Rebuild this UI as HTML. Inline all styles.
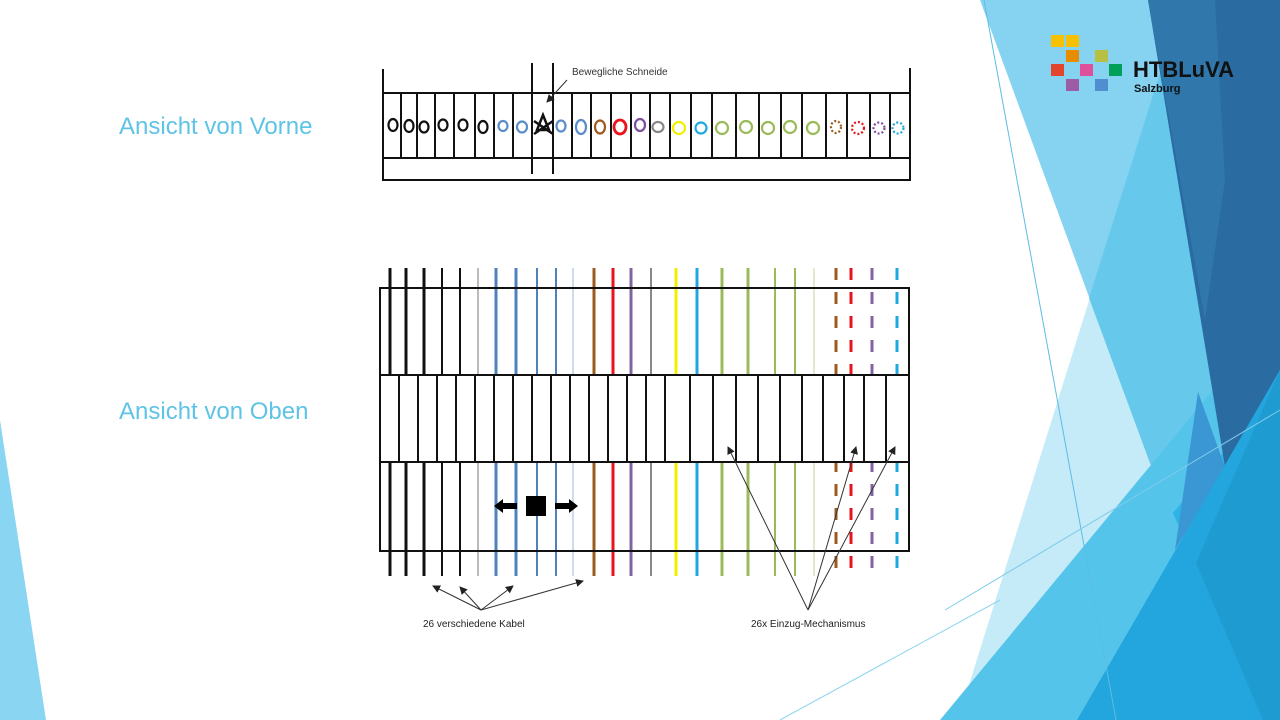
<!DOCTYPE html>
<html><head><meta charset="utf-8"><style>
html,body{margin:0;padding:0;background:#fff;width:1280px;height:720px;overflow:hidden}
svg{display:block}
text{font-family:"Liberation Sans",sans-serif}
</style></head><body>
<svg width="1280" height="720" viewBox="0 0 1280 720" xmlns="http://www.w3.org/2000/svg">
<defs>
<marker id="ah" markerWidth="8" markerHeight="8" refX="7" refY="4" orient="auto" markerUnits="userSpaceOnUse"><path d="M0,0 L8,4 L0,8 z" fill="#222"/></marker>
</defs>
<polygon points="1183,0 1280,0 1280,720 958,720" fill="#c5eaf8"/>
<polygon points="980,0 1280,0 1280,720 1263,720 1150,463" fill="#86d3f1"/>
<polygon points="1089,298 1183,0 1280,0 1280,720 1263,720 1150,463" fill="#66c9ec"/>
<polygon points="940,720 1280,309 1280,720" fill="#55c4ea"/>
<polygon points="1173,513 1280,384 1280,720 1263,720" fill="#2db4e6"/>
<polygon points="1148,0 1280,0 1280,370 1225,467" fill="#2a6ca2"/>
<polygon points="1148,0 1215,0 1225,180 1205,320" fill="#3077ab"/>
<polygon points="1198,392 1225,467 1175,550" fill="#3b97d3"/>
<polygon points="1280,370 1280,720 1077,720" fill="#23a5dd"/>
<polygon points="1280,370 1280,720 1263,720 1196,563" fill="#1e9bd0"/>
<polygon points="0,420 0,720 46,720" fill="#8ad6f2"/>
<line x1="984" y1="0" x2="1116" y2="720" stroke="#5bbde6" stroke-width="1"/>
<line x1="945" y1="610" x2="1280" y2="410" stroke="#7fcbe9" stroke-width="1"/>
<line x1="780" y1="720" x2="1000" y2="600" stroke="#8fd3ef" stroke-width="1"/>
<rect x="1051" y="35" width="13" height="12" fill="#f7c000"/>
<rect x="1066" y="35" width="13" height="12" fill="#f7c000"/>
<rect x="1066" y="50" width="13" height="12" fill="#e88c00"/>
<rect x="1095" y="50" width="13" height="12" fill="#b7c040"/>
<rect x="1051" y="64" width="13" height="12" fill="#e2452c"/>
<rect x="1080" y="64" width="13" height="12" fill="#de4f9c"/>
<rect x="1109" y="64" width="13" height="12" fill="#00a05a"/>
<rect x="1066" y="79" width="13" height="12" fill="#9b5ea6"/>
<rect x="1095" y="79" width="13" height="12" fill="#4f8fd0"/>
<text x="1133" y="77" font-size="22" font-weight="bold" fill="#111">HTBLuVA</text>
<text x="1134" y="92" font-size="11" font-weight="bold" fill="#111">Salzburg</text>
<text x="119" y="134" font-size="24" fill="#5ec3e6">Ansicht von Vorne</text>
<text x="119" y="419" font-size="24" fill="#5ec3e6">Ansicht von Oben</text>
<g stroke="#111" stroke-width="2" fill="none">
<polyline points="383,69 383,180 910,180 910,68"/>
<line x1="383" y1="93" x2="910" y2="93"/>
<line x1="383" y1="158" x2="910" y2="158"/>
<line x1="532" y1="63" x2="532" y2="174"/>
<line x1="553" y1="63" x2="553" y2="174"/>
</g>
<g stroke="#111" stroke-width="2">
<line x1="401" y1="93" x2="401" y2="158"/><line x1="417" y1="93" x2="417" y2="158"/><line x1="435" y1="93" x2="435" y2="158"/><line x1="454" y1="93" x2="454" y2="158"/><line x1="475" y1="93" x2="475" y2="158"/><line x1="494" y1="93" x2="494" y2="158"/><line x1="513" y1="93" x2="513" y2="158"/><line x1="572" y1="93" x2="572" y2="158"/><line x1="591" y1="93" x2="591" y2="158"/><line x1="611" y1="93" x2="611" y2="158"/><line x1="631" y1="93" x2="631" y2="158"/><line x1="650" y1="93" x2="650" y2="158"/><line x1="670" y1="93" x2="670" y2="158"/><line x1="691" y1="93" x2="691" y2="158"/><line x1="712" y1="93" x2="712" y2="158"/><line x1="736" y1="93" x2="736" y2="158"/><line x1="759" y1="93" x2="759" y2="158"/><line x1="781" y1="93" x2="781" y2="158"/><line x1="802" y1="93" x2="802" y2="158"/><line x1="826" y1="93" x2="826" y2="158"/><line x1="847" y1="93" x2="847" y2="158"/><line x1="870" y1="93" x2="870" y2="158"/><line x1="890" y1="93" x2="890" y2="158"/>
</g>
<g fill="none" stroke-width="2.2">
<ellipse cx="393" cy="125" rx="4.5" ry="6" stroke="#111"/>
<ellipse cx="409" cy="126" rx="4.5" ry="6" stroke="#111"/>
<ellipse cx="424" cy="127" rx="4.5" ry="5.5" stroke="#111"/>
<ellipse cx="443" cy="125" rx="4.5" ry="5.5" stroke="#111"/>
<ellipse cx="463" cy="125" rx="4.5" ry="5.5" stroke="#111"/>
<ellipse cx="483" cy="127" rx="4.5" ry="6" stroke="#111"/>
<ellipse cx="503" cy="126" rx="4.5" ry="5" stroke="#5b8dc8"/>
<ellipse cx="522" cy="127" rx="5" ry="5.5" stroke="#5b8dc8"/>
<ellipse cx="561" cy="126" rx="4.5" ry="5.5" stroke="#5b8dc8"/>
<ellipse cx="581" cy="127" rx="5" ry="7" stroke="#5b8dc8"/>
<ellipse cx="600" cy="127" rx="5" ry="6.5" stroke="#9c5a1e"/>
<ellipse cx="620" cy="127" rx="6" ry="7" stroke="#e8141c" stroke-width="2.8"/>
<ellipse cx="640" cy="125" rx="5" ry="6" stroke="#7b4ea0"/>
<ellipse cx="658" cy="127" rx="5.5" ry="5" stroke="#888"/>
<ellipse cx="679" cy="128" rx="6" ry="6" stroke="#f2ef00"/>
<ellipse cx="701" cy="128" rx="5.5" ry="5.5" stroke="#1da8e0"/>
<ellipse cx="722" cy="128" rx="6" ry="6" stroke="#9bbb59"/>
<ellipse cx="746" cy="127" rx="6" ry="6" stroke="#9bbb59"/>
<ellipse cx="768" cy="128" rx="6" ry="6" stroke="#9bbb59"/>
<ellipse cx="790" cy="127" rx="6" ry="6" stroke="#9bbb59"/>
<ellipse cx="813" cy="128" rx="6" ry="6" stroke="#9bbb59"/>
<ellipse cx="836" cy="127" rx="5" ry="6" stroke="#9c5a1e" stroke-dasharray="2 2"/>
<ellipse cx="858" cy="128" rx="6" ry="6" stroke="#e8141c" stroke-dasharray="2 2"/>
<ellipse cx="879" cy="128" rx="5.5" ry="5.5" stroke="#7b4ea0" stroke-dasharray="2 2"/>
<ellipse cx="898" cy="128" rx="5.5" ry="5.5" stroke="#1da8e0" stroke-dasharray="2 2"/>
</g>
<path d="M534,121 L553,134 M534,134 L553,121 M543,115 L537,130 L549,130 z" stroke="#111" stroke-width="2.5" fill="none"/>
<text x="572" y="75" font-size="10" fill="#333">Bewegliche Schneide</text>
<line x1="567" y1="80" x2="547" y2="102" stroke="#333" stroke-width="1" marker-end="url(#ah)"/>
<g stroke-linecap="butt">
<line x1="390" y1="268" x2="390" y2="576" stroke="#111" stroke-width="3"/>
<line x1="406" y1="268" x2="406" y2="576" stroke="#111" stroke-width="3"/>
<line x1="424" y1="268" x2="424" y2="576" stroke="#111" stroke-width="3"/>
<line x1="442" y1="268" x2="442" y2="576" stroke="#111" stroke-width="2"/>
<line x1="460" y1="268" x2="460" y2="576" stroke="#111" stroke-width="2"/>
<line x1="478" y1="268" x2="478" y2="576" stroke="#777" stroke-width="1"/>
<line x1="496" y1="268" x2="496" y2="576" stroke="#4f81bd" stroke-width="3"/>
<line x1="516" y1="268" x2="516" y2="576" stroke="#4f81bd" stroke-width="3"/>
<line x1="537" y1="268" x2="537" y2="576" stroke="#4f81bd" stroke-width="2"/>
<line x1="556" y1="268" x2="556" y2="576" stroke="#4f81bd" stroke-width="2"/>
<line x1="573" y1="268" x2="573" y2="576" stroke="#9bb7dd" stroke-width="1"/>
<line x1="594" y1="268" x2="594" y2="576" stroke="#9c5a1e" stroke-width="3"/>
<line x1="613" y1="268" x2="613" y2="576" stroke="#e8141c" stroke-width="3"/>
<line x1="631" y1="268" x2="631" y2="576" stroke="#8064a2" stroke-width="3"/>
<line x1="651" y1="268" x2="651" y2="576" stroke="#888" stroke-width="2"/>
<line x1="676" y1="268" x2="676" y2="576" stroke="#f2ef00" stroke-width="3"/>
<line x1="697" y1="268" x2="697" y2="576" stroke="#1da8e0" stroke-width="3"/>
<line x1="722" y1="268" x2="722" y2="576" stroke="#9bbb59" stroke-width="3"/>
<line x1="748" y1="268" x2="748" y2="576" stroke="#9bbb59" stroke-width="3"/>
<line x1="775" y1="268" x2="775" y2="576" stroke="#9bbb59" stroke-width="2"/>
<line x1="795" y1="268" x2="795" y2="576" stroke="#9bbb59" stroke-width="2"/>
<line x1="814" y1="268" x2="814" y2="576" stroke="#c3d69b" stroke-width="1"/>
<line x1="836" y1="268" x2="836" y2="576" stroke="#9c5a1e" stroke-width="3" stroke-dasharray="12 12"/>
<line x1="851" y1="268" x2="851" y2="576" stroke="#e8141c" stroke-width="3" stroke-dasharray="12 12"/>
<line x1="872" y1="268" x2="872" y2="576" stroke="#8064a2" stroke-width="3" stroke-dasharray="12 12"/>
<line x1="897" y1="268" x2="897" y2="576" stroke="#1da8e0" stroke-width="3" stroke-dasharray="12 12"/>
</g>
<rect x="380" y="375" width="529" height="87" fill="#fff"/>
<g stroke="#111" stroke-width="2" fill="none">
<rect x="380" y="288" width="529" height="263"/>
<line x1="380" y1="375" x2="909" y2="375"/>
<line x1="380" y1="462" x2="909" y2="462"/>
</g>
<g stroke="#111" stroke-width="2">
<line x1="399" y1="375" x2="399" y2="462"/><line x1="418" y1="375" x2="418" y2="462"/><line x1="437" y1="375" x2="437" y2="462"/><line x1="456" y1="375" x2="456" y2="462"/><line x1="475" y1="375" x2="475" y2="462"/><line x1="494" y1="375" x2="494" y2="462"/><line x1="513" y1="375" x2="513" y2="462"/><line x1="532" y1="375" x2="532" y2="462"/><line x1="551" y1="375" x2="551" y2="462"/><line x1="570" y1="375" x2="570" y2="462"/><line x1="589" y1="375" x2="589" y2="462"/><line x1="608" y1="375" x2="608" y2="462"/><line x1="627" y1="375" x2="627" y2="462"/><line x1="646" y1="375" x2="646" y2="462"/><line x1="665" y1="375" x2="665" y2="462"/><line x1="690" y1="375" x2="690" y2="462"/><line x1="713" y1="375" x2="713" y2="462"/><line x1="736" y1="375" x2="736" y2="462"/><line x1="758" y1="375" x2="758" y2="462"/><line x1="780" y1="375" x2="780" y2="462"/><line x1="802" y1="375" x2="802" y2="462"/><line x1="823" y1="375" x2="823" y2="462"/><line x1="844" y1="375" x2="844" y2="462"/><line x1="864" y1="375" x2="864" y2="462"/><line x1="886" y1="375" x2="886" y2="462"/>
</g>
<rect x="526" y="496" width="20" height="20" fill="#000"/>
<path d="M517,503 L503,503 L503,499 L494,506 L503,513 L503,509 L517,509 z" fill="#000"/>
<path d="M555,503 L569,503 L569,499 L578,506 L569,513 L569,509 L555,509 z" fill="#000"/>
<g stroke="#333" stroke-width="1" fill="none">
<line x1="481" y1="610" x2="433" y2="586" marker-end="url(#ah)"/>
<line x1="481" y1="610" x2="460" y2="587" marker-end="url(#ah)"/>
<line x1="481" y1="610" x2="513" y2="586" marker-end="url(#ah)"/>
<line x1="481" y1="610" x2="583" y2="581" marker-end="url(#ah)"/>
<line x1="808" y1="610" x2="728" y2="447" marker-end="url(#ah)"/>
<line x1="808" y1="610" x2="856" y2="447" marker-end="url(#ah)"/>
<line x1="808" y1="610" x2="895" y2="447" marker-end="url(#ah)"/>
</g>
<text x="423" y="627" font-size="10" fill="#222">26 verschiedene Kabel</text>
<text x="751" y="627" font-size="10" fill="#222">26x Einzug-Mechanismus</text>
</svg>
</body></html>
